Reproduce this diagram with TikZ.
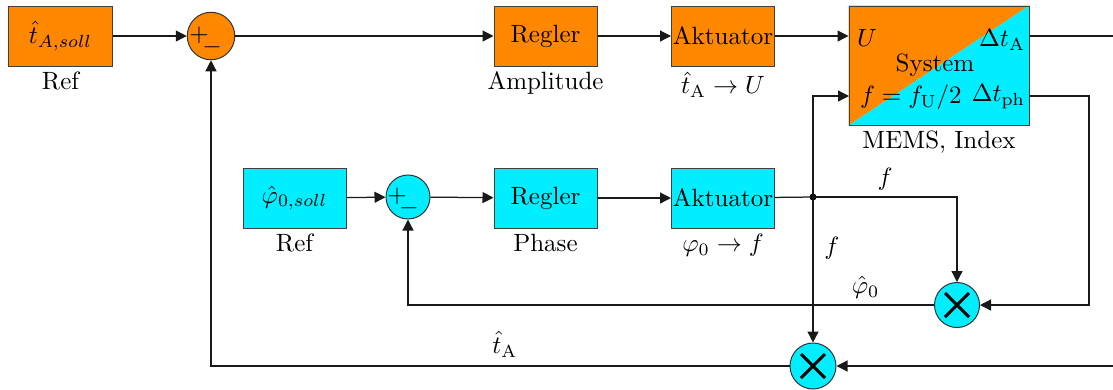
\documentclass[tikz,border=0pt]{standalone}
\usetikzlibrary{arrows.meta,backgrounds,calc}
\definecolor{myorange}{RGB}{255,136,0}
\definecolor{mycyan}{RGB}{0,238,255}
\tikzset{
  x=0.4pt,y=-0.4pt,
  >={Triangle[length=4.4pt,width=4.4pt]},
  blk/.style={draw=black!75,minimum width=41.2pt,minimum height=24pt,inner sep=0pt},
  obox/.style={blk,fill=myorange},
  cbox/.style={blk,fill=mycyan},
  sumnode/.style={circle,draw=black!80,minimum size=19pt,inner sep=0pt},
  lbl/.style={below=1pt,inner sep=1pt},
  wire/.style={draw=black!90,line width=0.5pt},
  xmark/.style={line width=1.15pt},
}
\newcommand{\mulx}[1]{\draw[xmark] ($(#1)+(-12,-12)$) -- ($(#1)+(12,12)$) ($(#1)+(-12,12)$) -- ($(#1)+(12,-12)$);}
\begin{document}
\begin{tikzpicture}
\useasboundingbox (0,0) rectangle (1113,389);
% top row
\node[obox,label={[lbl]below:Ref}] (ref1) at (60.5,36) {$\hat{t}_{A,soll}$};
\node[sumnode,fill=myorange] (sum1) at (211,36) {};
\node[obox,label={[lbl]below:Amplitude}] (reg1) at (545.5,36) {Regler};
\node[obox,label={[lbl]below:$\hat{t}_\mathrm{A}\to U$}] (akt1) at (723,36) {Aktuator};
\node[draw=black!75,minimum width=72pt,minimum height=47.6pt,inner sep=0pt,label={[lbl]below:MEMS, Index}] (sys) at (939,65.5) {};
\begin{scope}[on background layer]
\fill[myorange] (sys.south west) -- (sys.north west) -- (sys.north east) -- cycle;
\fill[mycyan] (sys.south west) -- (sys.south east) -- (sys.north east) -- cycle;
\end{scope}
\node (tU) at (867,38) {$U$};
\node[anchor=east,inner sep=1pt] (tdA) at (1028,40) {$\Delta t_\mathrm{A}$};
\node (tsys) at (935,65) {System};
\node[anchor=west,inner sep=1pt] (tf) at (857,97) {$f=f_\mathrm{U}/2$};
\node[anchor=east,inner sep=1pt] (tdph) at (1028,97) {$\Delta t_\mathrm{ph}$};
% second row
\node[cbox,label={[lbl]below:Ref}] (ref2) at (294.5,198) {$\hat{\varphi}_{0,soll}$};
\node[sumnode,fill=mycyan,minimum size=17.6pt] (sum2) at (408,197) {};
\node[cbox,label={[lbl]below:Phase}] (reg2) at (545.5,198) {Regler};
\node[cbox,label={[lbl]below:$\varphi_0\to f$}] (akt2) at (723,198) {Aktuator};
\fill (813,197) circle (1.4pt);
\coordinate (junc) at (813,197);
\node[sumnode,fill=mycyan,minimum size=18pt] (mul2) at (957,305) {};
\node[sumnode,fill=mycyan,minimum size=18.4pt] (mul1) at (813,366) {};
\mulx{mul2}
\mulx{mul1}
% signs
\node[inner sep=0pt] (p1) at (199,35) {$+$};
\node[inner sep=0pt] (m1) at (212,47) {$-$};
\node[inner sep=0pt] (p2) at (397,196) {$+$};
\node[inner sep=0pt] (m2) at (409,208) {$-$};
% coordinates
\coordinate (sysU) at (sys.west |- akt1);
\coordinate (sysF) at (849,96);
\coordinate (sysA) at (sys.east |- akt1);
\coordinate (sysPh) at (1029,96);
\coordinate (outA) at (1120,36);
\coordinate (rt) at (1089,305);
\coordinate (inB) at (1120,366);
% wires
\draw[wire,->] (ref1) -- (sum1);
\draw[wire,->] (sum1) -- (reg1);
\draw[wire,->] (reg1) -- (akt1);
\draw[wire,->] (akt1) -- (sysU);
\draw[wire] (sysA) -- (outA);
\draw[wire,->] (sysPh) -| (rt) -- (mul2);
\draw[wire,->] (ref2) -- (sum2);
\draw[wire,->] (sum2) -- (reg2);
\draw[wire,->] (reg2) -- (akt2);
\draw[wire] (akt2) -- (junc);
\draw[wire,->] (junc) -| node[pos=0.25,above=-1pt]{$f$} (mul2);
\draw[wire,->] (junc) -- node[pos=0.35,right=1pt]{$f$} (mul1);
\draw[wire,->] (junc) |- (sysF);
\draw[wire,->] (mul2) -| node[pos=0.065,above=-1pt]{$\hat{\varphi}_0$} (sum2);
\draw[wire,->] (mul1) -| node[pos=0.246,above=0pt]{$\hat{t}_\mathrm{A}$} (sum1);
\draw[wire,->] (inB) -- (mul1);
\end{tikzpicture}
\end{document}
